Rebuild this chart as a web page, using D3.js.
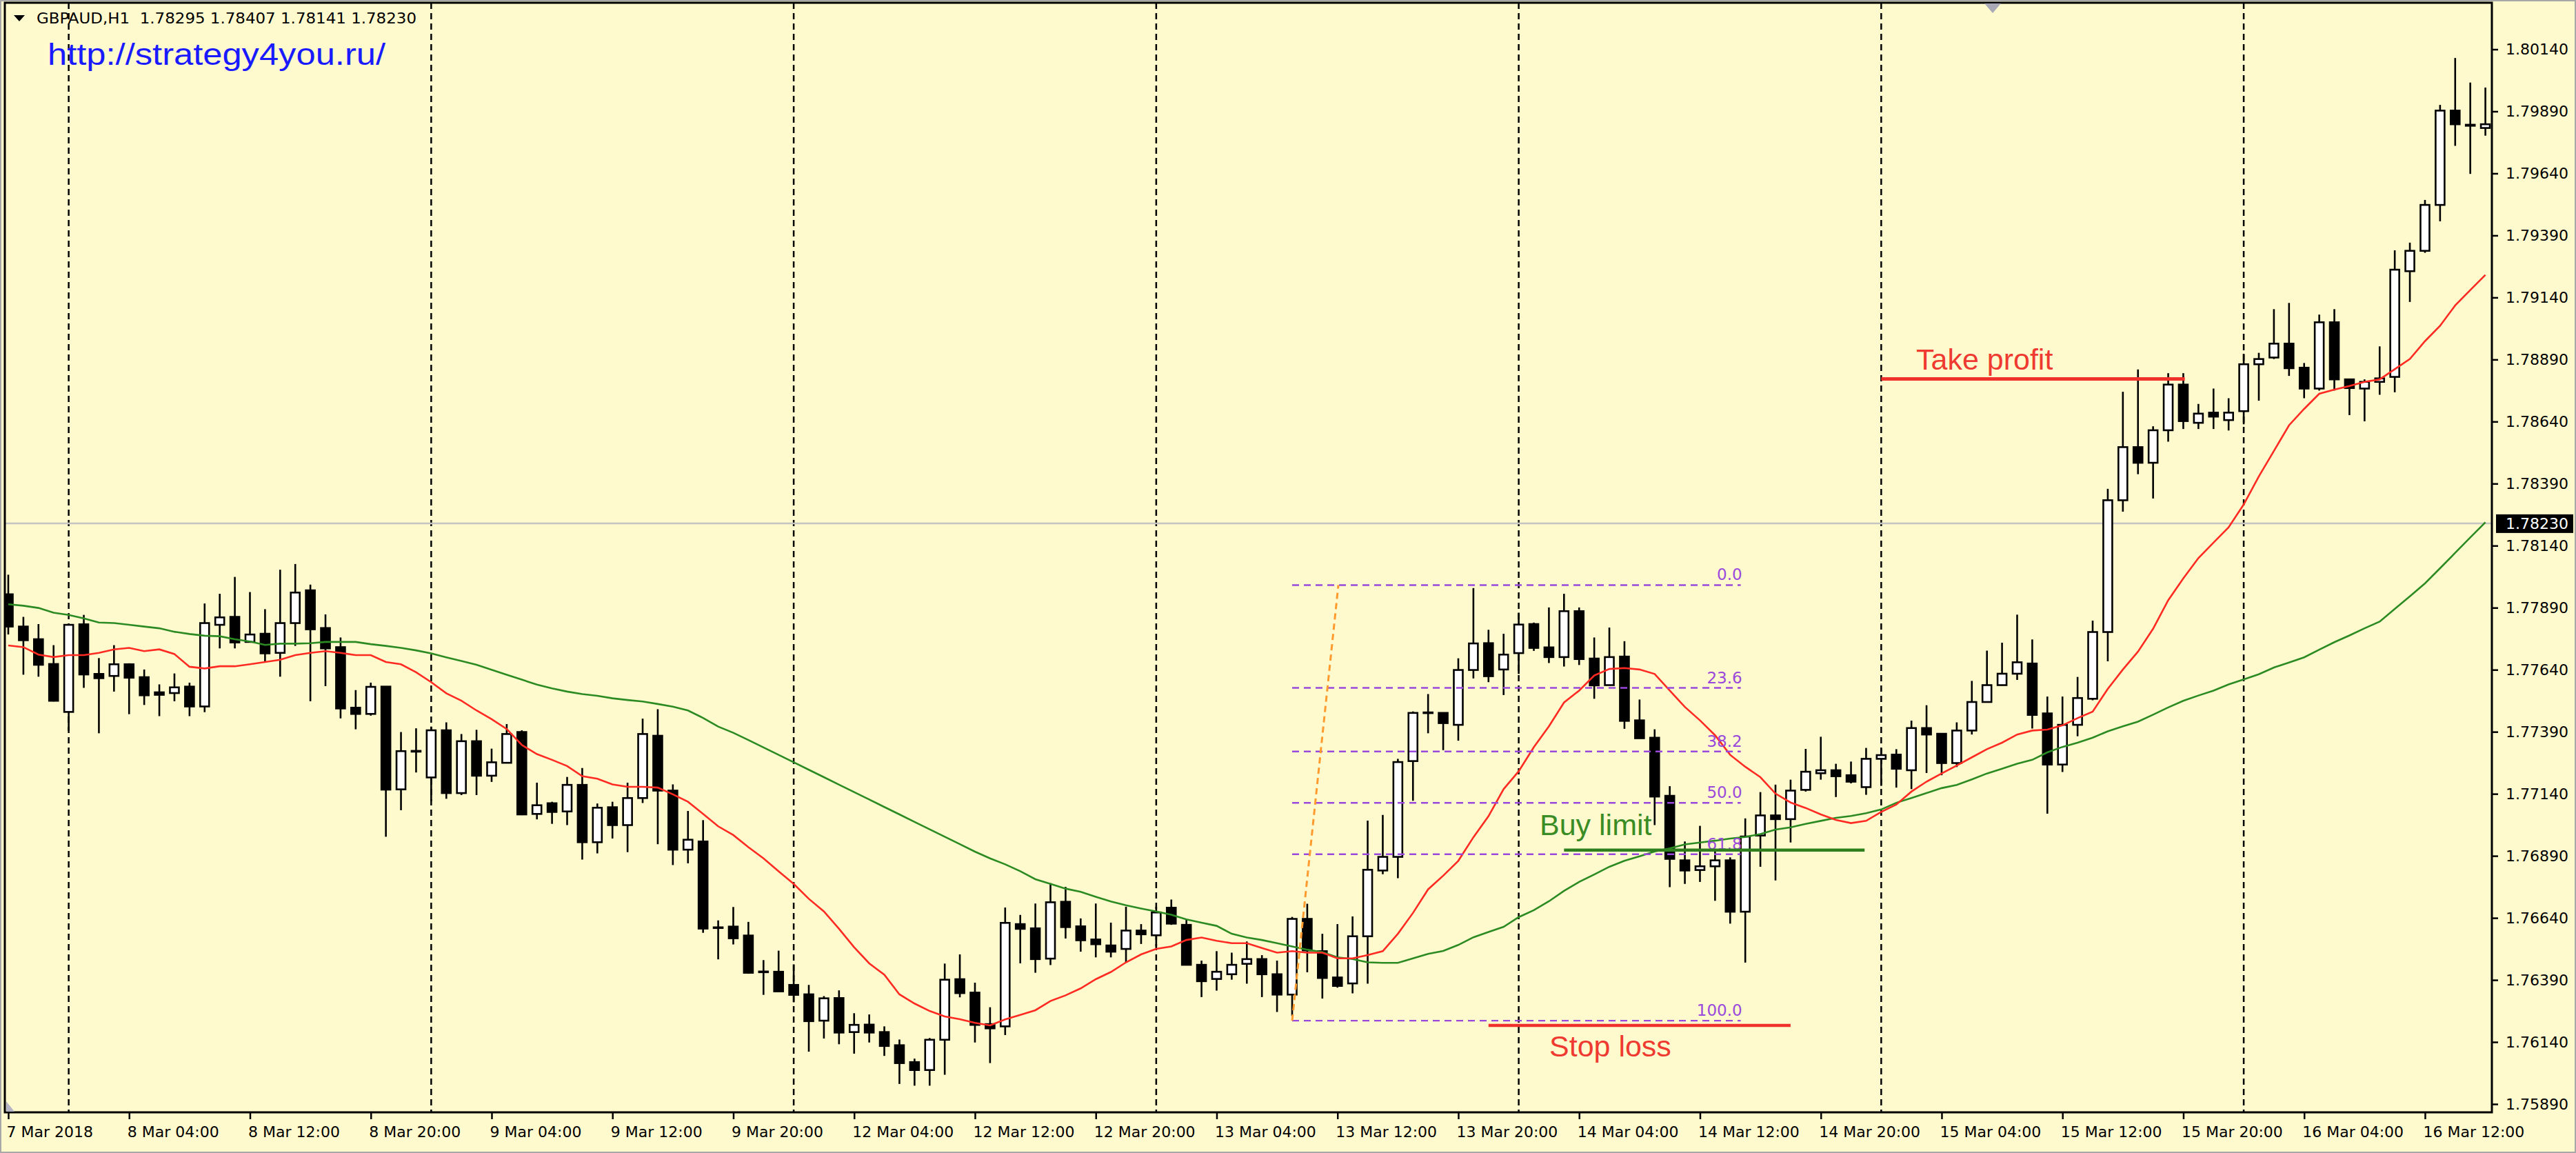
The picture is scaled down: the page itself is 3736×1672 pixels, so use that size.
<!DOCTYPE html>
<html><head><meta charset="utf-8">
<script src="https://cdn.jsdelivr.net/npm/d3@7"></script>
<style>html,body{margin:0;padding:0;background:#FFFACD;} svg{display:block;}</style>
</head><body>
<svg id="chart" width="3736" height="1672"></svg>
<script>
// ---------------- DATA ----------------
const symbolTitle = "GBPAUD,H1  1.78295 1.78407 1.78141 1.78230";
const siteUrl = "http://strategy4you.ru/";
const currentPrice = 1.78230;

const openP = [1.77944,1.77814,1.77763,1.77663,1.77470,1.77823,1.77623,1.77615,1.77662,1.77610,
 1.77549,1.77546,1.77572,1.77492,1.77821,1.77853,1.77752,1.77785,1.77708,1.77828,
 1.77960,1.77808,1.77731,1.77487,1.77462,1.77572,1.77158,1.77313,1.77206,1.77396,
 1.77143,1.77352,1.77213,1.77265,1.77389,1.77059,1.77102,1.77069,1.77176,1.76945,
 1.77086,1.77014,1.77123,1.77374,1.77153,1.76915,1.76948,1.76602,1.76605,1.76569,
 1.76424,1.76423,1.76370,1.76332,1.76226,1.76317,1.76180,1.76210,1.76180,1.76127,
 1.76059,1.76027,1.76149,1.76393,1.76339,1.76212,1.76203,1.76615,1.76598,1.76476,
 1.76705,1.76606,1.76553,1.76529,1.76515,1.76589,1.76570,1.76681,1.76612,1.76451,
 1.76394,1.76413,1.76455,1.76474,1.76413,1.76331,1.76636,1.76506,1.76400,1.76376,
 1.76566,1.76831,1.76886,1.77272,1.77468,1.77466,1.77418,1.77639,1.77747,1.77641,
 1.77707,1.77824,1.77730,1.77691,1.77876,1.77685,1.77578,1.77693,1.77436,1.77366,
 1.77132,1.76872,1.76833,1.76848,1.76872,1.76665,1.76972,1.77053,1.77038,1.77156,
 1.77223,1.77235,1.77215,1.77167,1.77281,1.77298,1.77235,1.77405,1.77382,1.77264,
 1.77395,1.77510,1.77578,1.77624,1.77665,1.77464,1.77258,1.77418,1.77523,1.77792,
 1.78323,1.78537,1.78474,1.78605,1.78789,1.78635,1.78676,1.78646,1.78682,1.78871,
 1.78898,1.78954,1.78857,1.78773,1.79040,1.78810,1.78773,1.78800,1.78820,1.79246,
 1.79328,1.79513,1.79893,1.79836,1.79823];

const highP = [1.78023,1.77853,1.77824,1.77739,1.77825,1.77861,1.77687,1.77739,1.77666,1.77641,
 1.77581,1.77625,1.77588,1.77907,1.77946,1.78014,1.77953,1.77884,1.78043,1.78066,
 1.77983,1.77863,1.77770,1.77558,1.77588,1.77572,1.77389,1.77404,1.77411,1.77428,
 1.77381,1.77398,1.77322,1.77421,1.77396,1.77185,1.77108,1.77208,1.77244,1.77101,
 1.77108,1.77185,1.77443,1.77481,1.77178,1.77071,1.77034,1.76630,1.76684,1.76624,
 1.76470,1.76508,1.76453,1.76370,1.76325,1.76348,1.76256,1.76251,1.76203,1.76150,
 1.76073,1.76156,1.76456,1.76493,1.76379,1.76280,1.76682,1.76652,1.76698,1.76780,
 1.76765,1.76638,1.76698,1.76621,1.76685,1.76615,1.76685,1.76714,1.76634,1.76468,
 1.76506,1.76500,1.76545,1.76490,1.76468,1.76644,1.76697,1.76576,1.76615,1.76646,
 1.77032,1.77055,1.77281,1.77472,1.77542,1.77466,1.77686,1.77969,1.77801,1.77785,
 1.77870,1.77830,1.77891,1.77946,1.77891,1.77770,1.77810,1.77755,1.77520,1.77400,
 1.77171,1.76948,1.77011,1.76918,1.76884,1.77041,1.77147,1.77177,1.77197,1.77321,
 1.77370,1.77261,1.77270,1.77325,1.77324,1.77320,1.77435,1.77497,1.77382,1.77428,
 1.77595,1.77717,1.77749,1.77862,1.77762,1.77532,1.77532,1.77611,1.77838,1.78369,
 1.78760,1.78850,1.78621,1.78835,1.78835,1.78711,1.78773,1.78734,1.78913,1.78917,
 1.79093,1.79118,1.78876,1.79071,1.79093,1.78810,1.78810,1.78943,1.79330,1.79361,
 1.79533,1.79916,1.80105,1.80006,1.79986];

const lowP = [1.77782,1.77620,1.77612,1.77512,1.77393,1.77567,1.77384,1.77552,1.77461,1.77498,
 1.77453,1.77513,1.77453,1.77469,1.77726,1.77726,1.77750,1.77671,1.77612,1.77736,
 1.77513,1.77574,1.77444,1.77400,1.77455,1.76967,1.77074,1.77226,1.77111,1.77120,
 1.77135,1.77135,1.77188,1.77265,1.77054,1.77037,1.77019,1.77014,1.76875,1.76900,
 1.76960,1.76905,1.77103,1.76937,1.76853,1.76860,1.76580,1.76473,1.76533,1.76415,
 1.76330,1.76344,1.76300,1.76101,1.76154,1.76131,1.76093,1.76138,1.76084,1.75971,
 1.75964,1.75964,1.76008,1.76320,1.76138,1.76055,1.76168,1.76457,1.76419,1.76450,
 1.76557,1.76504,1.76481,1.76481,1.76461,1.76535,1.76525,1.76612,1.76451,1.76321,
 1.76347,1.76391,1.76375,1.76321,1.76261,1.76245,1.76421,1.76315,1.76359,1.76336,
 1.76375,1.76816,1.76800,1.77112,1.77384,1.77316,1.77354,1.77605,1.77590,1.77538,
 1.77623,1.77716,1.77667,1.77653,1.77659,1.77523,1.77578,1.77402,1.77364,1.77014,
 1.76764,1.76777,1.76785,1.76709,1.76617,1.76460,1.76846,1.76791,1.76944,1.77149,
 1.77197,1.77127,1.77182,1.77136,1.77172,1.77165,1.77159,1.77224,1.77215,1.77248,
 1.77379,1.77510,1.77576,1.77599,1.77403,1.77060,1.77228,1.77372,1.77517,1.77674,
 1.78277,1.78428,1.78330,1.78559,1.78610,1.78610,1.78610,1.78604,1.78629,1.78724,
 1.78892,1.78824,1.78734,1.78765,1.78765,1.78666,1.78641,1.78748,1.78758,1.79122,
 1.79320,1.79447,1.79751,1.79638,1.79792];

const closeP = [1.77814,1.77759,1.77660,1.77515,1.77821,1.77621,1.77606,1.77662,1.77608,1.77537,
 1.77539,1.77569,1.77492,1.77828,1.77851,1.77750,1.77782,1.77706,1.77828,1.77951,
 1.77803,1.77726,1.77484,1.77462,1.77571,1.77157,1.77312,1.77310,1.77396,1.77143,
 1.77352,1.77213,1.77267,1.77381,1.77057,1.77094,1.77067,1.77176,1.76945,1.77084,
 1.77014,1.77123,1.77381,1.77153,1.76915,1.76955,1.76597,1.76600,1.76558,1.76419,
 1.76422,1.76344,1.76330,1.76224,1.76316,1.76178,1.76209,1.76178,1.76124,1.76055,
 1.76027,1.76149,1.76391,1.76337,1.76209,1.76195,1.76620,1.76596,1.76474,1.76703,
 1.76603,1.76550,1.76534,1.76504,1.76589,1.76574,1.76662,1.76617,1.76451,1.76385,
 1.76423,1.76451,1.76474,1.76413,1.76331,1.76636,1.76509,1.76398,1.76366,1.76566,
 1.76834,1.76886,1.77268,1.77466,1.77466,1.77425,1.77639,1.77746,1.77614,1.77701,
 1.77822,1.77728,1.77691,1.77876,1.77683,1.77577,1.77691,1.77434,1.77364,1.77129,
 1.76878,1.76831,1.76848,1.76872,1.76665,1.76968,1.77053,1.77038,1.77153,1.77229,
 1.77235,1.77211,1.77189,1.77281,1.77296,1.77241,1.77405,1.77379,1.77264,1.77395,
 1.77510,1.77578,1.77624,1.77670,1.77458,1.77258,1.77418,1.77526,1.77792,1.78323,
 1.78537,1.78474,1.78605,1.78789,1.78642,1.78672,1.78660,1.78676,1.78871,1.78892,
 1.78954,1.78855,1.78773,1.79040,1.78810,1.78775,1.78800,1.78814,1.79252,1.79328,
 1.79513,1.79893,1.79838,1.79832,1.79838];

const maFast = [1.77738,1.77731,1.77701,1.77691,1.77699,1.77699,1.77708,1.77722,1.77728,1.77715,
 1.77722,1.77703,1.77652,1.77645,1.77654,1.77654,1.77662,1.77671,1.77680,1.77699,
 1.77708,1.77715,1.77708,1.77699,1.77699,1.77671,1.77662,1.77630,1.77590,1.77545,
 1.77515,1.77476,1.77441,1.77401,1.77337,1.77300,1.77277,1.77252,1.77211,1.77201,
 1.77178,1.77168,1.77168,1.77165,1.77138,1.77108,1.77059,1.77009,1.76974,1.76925,
 1.76880,1.76828,1.76777,1.76717,1.76666,1.76596,1.76522,1.76457,1.76411,1.76332,
 1.76295,1.76265,1.76243,1.76232,1.76217,1.76207,1.76231,1.76249,1.76268,1.76305,
 1.76328,1.76356,1.76393,1.76422,1.76461,1.76493,1.76515,1.76525,1.76551,1.76561,
 1.76548,1.76538,1.76538,1.76519,1.76500,1.76506,1.76500,1.76500,1.76477,1.76477,
 1.76490,1.76506,1.76576,1.76660,1.76755,1.76810,1.76870,1.76965,1.77050,1.77159,
 1.77231,1.77328,1.77412,1.77508,1.77556,1.77617,1.77643,1.77647,1.77641,1.77623,
 1.77556,1.77490,1.77436,1.77376,1.77297,1.77249,1.77207,1.77141,1.77105,1.77083,
 1.77057,1.77035,1.77022,1.77031,1.77067,1.77097,1.77149,1.77189,1.77222,1.77254,
 1.77287,1.77320,1.77346,1.77379,1.77395,1.77399,1.77416,1.77445,1.77471,1.77563,
 1.77641,1.77713,1.77805,1.77920,1.78008,1.78090,1.78152,1.78214,1.78306,1.78419,
 1.78522,1.78625,1.78691,1.78752,1.78769,1.78783,1.78800,1.78810,1.78851,1.78892,
 1.78964,1.79026,1.79108,1.79170,1.79231];

const maSlow = [1.77904,1.77898,1.77889,1.77870,1.77861,1.77847,1.77830,1.77828,1.77821,1.77814,
 1.77807,1.77793,1.77784,1.77777,1.77775,1.77763,1.77754,1.77740,1.77745,1.77745,
 1.77747,1.77752,1.77752,1.77752,1.77743,1.77736,1.77728,1.77718,1.77706,1.77690,
 1.77675,1.77660,1.77640,1.77620,1.77600,1.77580,1.77565,1.77552,1.77542,1.77535,
 1.77525,1.77518,1.77512,1.77502,1.77491,1.77476,1.77446,1.77411,1.77386,1.77357,
 1.77327,1.77297,1.77267,1.77237,1.77207,1.77177,1.77147,1.77117,1.77087,1.77057,
 1.77027,1.76997,1.76967,1.76937,1.76907,1.76880,1.76856,1.76828,1.76796,1.76777,
 1.76758,1.76745,1.76725,1.76706,1.76691,1.76678,1.76666,1.76653,1.76634,1.76621,
 1.76608,1.76576,1.76561,1.76551,1.76538,1.76525,1.76512,1.76502,1.76481,1.76474,
 1.76461,1.76459,1.76459,1.76477,1.76495,1.76507,1.76531,1.76562,1.76583,1.76604,
 1.76643,1.76671,1.76707,1.76749,1.76785,1.76815,1.76846,1.76870,1.76888,1.76908,
 1.76920,1.76936,1.76944,1.76951,1.76960,1.76966,1.76978,1.76996,1.77005,1.77019,
 1.77031,1.77043,1.77051,1.77062,1.77077,1.77104,1.77123,1.77143,1.77163,1.77176,
 1.77198,1.77222,1.77241,1.77261,1.77277,1.77307,1.77329,1.77346,1.77366,1.77392,
 1.77412,1.77431,1.77459,1.77488,1.77515,1.77536,1.77556,1.77581,1.77601,1.77622,
 1.77649,1.77669,1.77690,1.77721,1.77751,1.77778,1.77807,1.77834,1.77885,1.77936,
 1.77988,1.78049,1.78111,1.78173,1.78234];

const timeTickBars = [0,8,16,24,32,40,48,56,64,72,80,88,96,104,112,120,128,136,144,152,160];
const timeTickLabels = ["7 Mar 2018","8 Mar 04:00","8 Mar 12:00","8 Mar 20:00","9 Mar 04:00",
 "9 Mar 12:00","9 Mar 20:00","12 Mar 04:00","12 Mar 12:00","12 Mar 20:00","13 Mar 04:00",
 "13 Mar 12:00","13 Mar 20:00","14 Mar 04:00","14 Mar 12:00","14 Mar 20:00","15 Mar 04:00",
 "15 Mar 12:00","15 Mar 20:00","16 Mar 04:00","16 Mar 12:00"];
const daySeparatorBars = [4,28,52,76,100,124,148];
const priceTicks = [1.75890,1.76140,1.76390,1.76640,1.76890,1.77140,1.77390,1.77640,1.77890,
 1.78140,1.78390,1.78640,1.78890,1.79140,1.79390,1.79640,1.79890,1.80140];

const fibLevels = [0, 23.6, 38.2, 50, 61.8, 100];
const fibLabels = ["0.0","23.6","38.2","50.0","61.8","100.0"];
const fibPrices = [1.77981, 1.76226];      // 0% and 100% anchor prices
const fibBars = [85, 114.7];              // start / end bar of the level lines
const fibTrendBars = [85, 88.06];         // dotted anchor line (low -> high)

const tradeNames = ["Take profit", "Buy limit", "Stop loss"];
const tradePrices = [1.78812, 1.76913, 1.76207];
const tradeFromBar = [124, 103, 98];
const tradeToBar = [144.1, 122.9, 118];

// ---------------- LAYOUT ----------------
const W = 3736, H = 1672;
const P = {left: 7, top: 4, right: 3614, bottom: 1613};
const svg = d3.select("#chart");
const x = d3.scaleLinear().domain([0, 164]).range([12, 12 + 164 * 21.906]);
const y = d3.scaleLinear().domain([1.75890, 1.80140]).range([1601.0, 71.5]);
const AX_FONT = "'DejaVu Sans', Verdana, sans-serif";
const TXT_FONT = "'Liberation Sans', Arial, sans-serif";

svg.append("rect").attr("width", W).attr("height", H).attr("fill", "#FFFACD");

svg.append("defs").append("clipPath").attr("id", "plotClip")
  .append("rect").attr("x", P.left).attr("y", P.top)
  .attr("width", P.right - P.left).attr("height", P.bottom - P.top);

const g = svg.append("g").attr("clip-path", "url(#plotClip)");

// day separators
g.selectAll("line.sep").data(daySeparatorBars).join("line")
  .attr("x1", d => x(d)).attr("x2", d => x(d))
  .attr("y1", P.top).attr("y2", P.bottom)
  .attr("stroke", "#000").attr("stroke-width", 2.5).attr("stroke-dasharray", "9,6");

// current price line
g.append("line").attr("x1", P.left).attr("x2", P.right)
  .attr("y1", y(currentPrice)).attr("y2", y(currentPrice))
  .attr("stroke", "#c4c4c4").attr("stroke-width", 2.5);

// candles
const bars = d3.range(openP.length).map(i => ({i, o: openP[i], h: highP[i], l: lowP[i], c: closeP[i]}));
const cg = g.append("g");
cg.selectAll("line.wick").data(bars).join("line")
  .attr("x1", d => x(d.i)).attr("x2", d => x(d.i))
  .attr("y1", d => y(d.h)).attr("y2", d => y(d.l))
  .attr("stroke", "#000").attr("stroke-width", 2.6);
const BW = 13;
cg.selectAll("rect.body").data(bars).join("rect")
  .attr("x", d => x(d.i) - BW / 2)
  .attr("y", d => y(Math.max(d.o, d.c)))
  .attr("width", BW)
  .attr("height", d => Math.max(1, Math.abs(y(d.o) - y(d.c))))
  .attr("fill", d => d.c >= d.o ? "#ffffff" : "#000000")
  .attr("stroke", "#000").attr("stroke-width", 2.6);

// moving averages
const lineGen = d3.line().x((d, i) => x(i)).y(d => y(d));
g.append("path").attr("d", lineGen(maSlow)).attr("fill", "none")
  .attr("stroke", "#2b8a22").attr("stroke-width", 2.6);
g.append("path").attr("d", lineGen(maFast)).attr("fill", "none")
  .attr("stroke", "#ff2a22").attr("stroke-width", 2.6);

// fibonacci
const fibColor = "#9a48dc";
const fibRange = fibPrices[0] - fibPrices[1];
fibLevels.forEach((lv, k) => {
  const py = y(fibPrices[0] - lv / 100 * fibRange);
  g.append("line").attr("x1", x(fibBars[0])).attr("x2", x(fibBars[1]))
    .attr("y1", py).attr("y2", py)
    .attr("stroke", fibColor).attr("stroke-width", 2.4).attr("stroke-dasharray", "10,7");
  g.append("text").attr("x", x(fibBars[1]) + 2).attr("y", py - 7)
    .attr("text-anchor", "end").attr("font-family", AX_FONT).attr("font-size", 23)
    .attr("fill", fibColor).text(fibLabels[k]);
});
g.append("line")
  .attr("x1", x(fibTrendBars[0])).attr("y1", y(fibPrices[1]))
  .attr("x2", x(fibTrendBars[1])).attr("y2", y(fibPrices[0]))
  .attr("stroke", "#ff9a2e").attr("stroke-width", 3).attr("stroke-dasharray", "9,6");

// trade levels
const tradeColors = ["#f0302a", "#2f7f1f", "#f0302a"];
const tradeWidths = [5, 4.5, 4.5];
const tradeTextColors = ["#ee3a30", "#3a8c24", "#ee3a30"];
const tradeTextPos = [[2779, 536], [2233, 1211], [2247, 1532]];
tradeNames.forEach((nm, k) => {
  g.append("line").attr("x1", x(tradeFromBar[k])).attr("x2", x(tradeToBar[k]))
    .attr("y1", y(tradePrices[k])).attr("y2", y(tradePrices[k]))
    .attr("stroke", tradeColors[k]).attr("stroke-width", tradeWidths[k]);
  g.append("text").attr("x", tradeTextPos[k][0]).attr("y", tradeTextPos[k][1])
    .attr("font-family", TXT_FONT).attr("font-size", 43)
    .attr("fill", tradeTextColors[k]).text(nm);
});

// ---------------- AXES ----------------
const yAxis = d3.axisRight(y).tickValues(priceTicks).tickFormat(d3.format(".5f"))
  .tickSize(9).tickPadding(11);
const ya = svg.append("g").attr("transform", `translate(${P.right},0)`).call(yAxis);
ya.select(".domain").remove();
ya.selectAll("line").attr("stroke", "#000").attr("stroke-width", 2.5);
ya.selectAll("text").attr("font-family", AX_FONT).attr("font-size", 22).attr("fill", "#000");

const xAxis = d3.axisBottom(x).tickValues(timeTickBars)
  .tickFormat((d, i) => timeTickLabels[i]).tickSize(10);
const xa = svg.append("g").attr("transform", `translate(0,${P.bottom})`).call(xAxis);
xa.select(".domain").remove();
xa.selectAll("line").attr("stroke", "#000").attr("stroke-width", 2.5);
xa.selectAll("text").attr("text-anchor", "start").attr("dx", -3).attr("dy", 0).attr("y", 36)
  .attr("font-family", AX_FONT).attr("font-size", 22).attr("fill", "#000");

// current price label
svg.append("rect").attr("x", 3620).attr("y", y(currentPrice) - 13).attr("width", 112).attr("height", 27)
  .attr("fill", "#000");
svg.append("text").attr("x", 3634).attr("y", y(currentPrice)).attr("dy", "0.35em")
  .attr("font-family", AX_FONT).attr("font-size", 22).attr("fill", "#fff").text(d3.format(".5f")(currentPrice));

// frame
svg.append("path").attr("d", `M${P.left},${P.top}H${P.right}V${P.bottom}H${P.left}Z`)
  .attr("fill", "none").attr("stroke", "#000").attr("stroke-width", 3);
svg.append("rect").attr("x", 1).attr("y", 1).attr("width", W - 2).attr("height", H - 2)
  .attr("fill", "none").attr("stroke", "#a8a8a8").attr("stroke-width", 2);

// small markers
svg.append("path").attr("d", "M2878,5 L2902,5 L2890,19 Z").attr("fill", "#a9a9b6");
svg.append("path").attr("d", `M${P.left + 2},${P.bottom - 16} L${P.left + 2},${P.bottom - 1} L${P.left + 14},${P.bottom - 1} Z`)
  .attr("fill", "#b4b4c4");

// header
svg.append("path").attr("d", "M20,22 L36,22 L28,31 Z").attr("fill", "#000");
svg.append("text").attr("x", 53).attr("y", 34).attr("font-family", AX_FONT).attr("font-size", 22)
  .attr("textLength", 551).attr("lengthAdjust", "spacingAndGlyphs").attr("fill", "#000")
  .style("white-space", "pre").attr("xml:space", "preserve").text(symbolTitle);
svg.append("text").attr("x", 69).attr("y", 94).attr("font-family", TXT_FONT).attr("font-size", 45)
  .attr("textLength", 490).attr("lengthAdjust", "spacingAndGlyphs").attr("fill", "#1a1aff")
  .text(siteUrl);
</script>
</body></html>
